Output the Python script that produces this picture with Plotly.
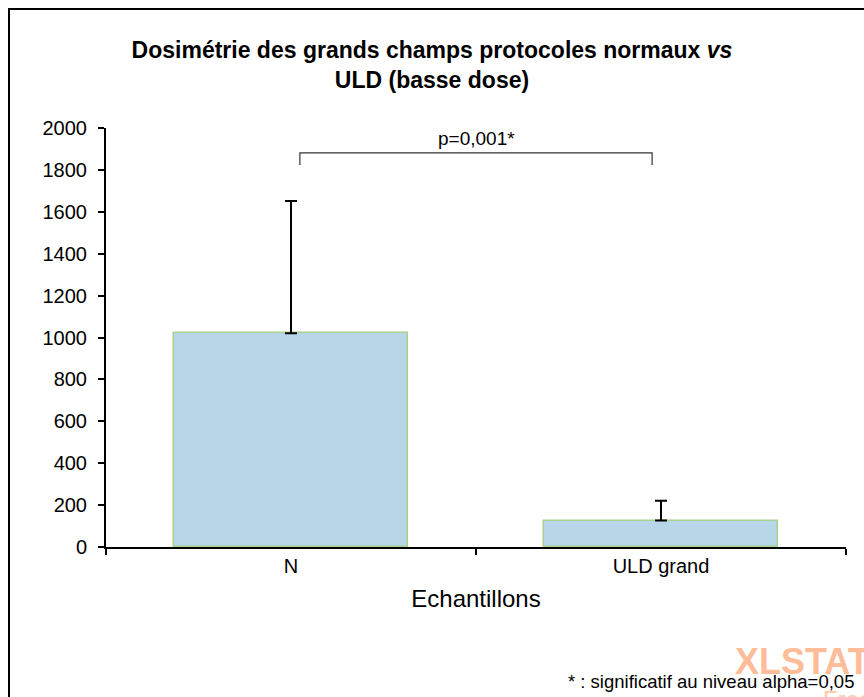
import plotly.graph_objects as go

categories = ["N", "ULD grand"]
means = [1020, 126]
errors_plus = [631, 95]
y_ticks = [0, 200, 400, 600, 800, 1000, 1200, 1400, 1600, 1800, 2000]
p_label = "p=0,001*"
footnote = "* : significatif au niveau alpha=0,05"

W, H = 864, 697
L, R, T, B = 106, 18, 128, 150
pw, ph = W - L - R, H - T - B


def px_x(p):
    return (p - L) / pw


def px_y(p):
    return (H - B - p) / ph


font = "Liberation Sans, Arial, Helvetica, sans-serif"

fig = go.Figure()
fig.add_trace(go.Bar(
    x=categories, y=means,
    width=0.63,
    marker=dict(color="#B7D7E8", line=dict(color="#A9D18E", width=1.5)),
    error_y=dict(type="data", symmetric=False, array=errors_plus,
                 arrayminus=[0, 0], color="black", thickness=2, width=6),
    showlegend=False,
))

fig.update_layout(
    width=W, height=H,
    margin=dict(l=L, r=R, t=T, b=B),
    paper_bgcolor="white", plot_bgcolor="white",
    font=dict(family=font, color="black"),
    bargap=0,
    title=dict(
        text="<b>Dosimétrie des grands champs protocoles normaux <i>vs</i><br>ULD (basse dose)</b>",
        x=0.5, xanchor="center", y=1 - 58 / H, yanchor="middle",
        font=dict(size=23, family=font, color="black"),
    ),
    xaxis=dict(
        type="category", tickson="boundaries",
        showline=True, linecolor="black", linewidth=2,
        ticks="outside", ticklen=6, tickwidth=1.5, tickcolor="black",
        tickfont=dict(size=20), showgrid=False, zeroline=False,
        title=dict(text="Echantillons", font=dict(size=24), standoff=14),
        range=[-0.5, 1.5],
    ),
    yaxis=dict(
        range=[0, 2000], tickvals=y_ticks,
        showline=True, linecolor="black", linewidth=2,
        ticks="outside", ticklen=6, tickwidth=1.5, tickcolor="black",
        tickfont=dict(size=20), showgrid=False, zeroline=False,
        ticklabelstandoff=7,
    ),
)

# outer frame
fig.add_shape(type="rect", xref="paper", yref="paper",
              x0=px_x(9), x1=px_x(880), y0=px_y(720), y1=px_y(9),
              line=dict(color="black", width=2), layer="below")

# significance bracket
by = 1881
bt = 1823
fig.add_shape(type="path", xref="x", yref="y",
              path=f"M 0.024,{bt} L 0.024,{by} L 0.976,{by} L 0.976,{bt}",
              line=dict(color="#333333", width=1.2))
fig.add_annotation(x=0.5, y=1952, xref="x", yref="y", text=p_label,
                   showarrow=False, yanchor="middle",
                   font=dict(size=19, family=font))

# watermark
fig.add_annotation(x=px_x(733), y=px_y(661), xref="paper", yref="paper",
                   text="<b>XLSTAT</b>", showarrow=False, xanchor="left",
                   yanchor="middle", font=dict(size=36, color="#FFBC98", family=font))
fig.add_annotation(x=px_x(821), y=px_y(699), xref="paper", yref="paper",
                   text="Free", showarrow=False, xanchor="left",
                   yanchor="middle", font=dict(size=24, color="#FFC9A8", family=font))
# footnote
fig.add_annotation(x=px_x(856), y=px_y(681), xref="paper", yref="paper",
                   text=footnote, showarrow=False,
                   xanchor="right", yanchor="middle", font=dict(size=18.5, family=font))

fig.write_html("out.html", config={"displayModeBar": False},
               post_script="document.body.style.margin='0';")
